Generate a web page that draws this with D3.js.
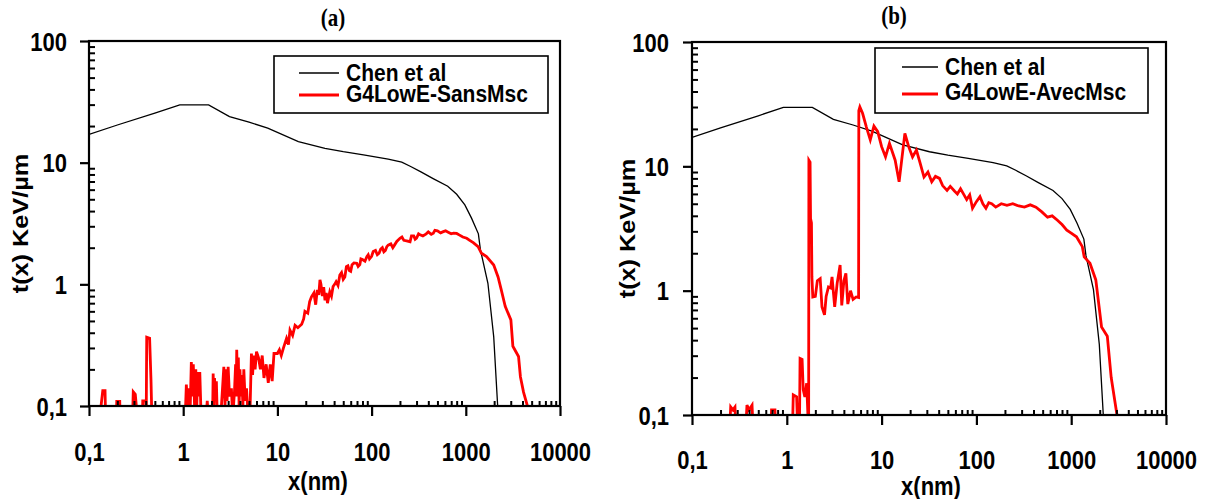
<!DOCTYPE html>
<html><head><meta charset="utf-8">
<script src="https://cdn.jsdelivr.net/npm/d3@7"></script>
<style>body{margin:0;background:#fff}</style>
</head><body>
<svg id="chart" width="1205" height="499"></svg>
<script>
// ---------- data ----------
const chenX = [0.1, 0.2, 0.5, 0.92, 1.86, 3.1, 5, 7.9, 16.7, 32, 50, 82, 150, 209, 260, 334, 450, 643, 800, 977, 1150, 1360, 1430, 1717, 1979, 2172, 2200];
const chenY = [17.1, 20.4, 25.5, 29.8, 29.8, 23.9, 21.5, 19.2, 14.9, 13.1, 12.3, 11.6, 10.7, 10.1, 9.3, 8.4, 7.4, 6.4, 5.5, 4.5, 3.5, 2.6, 1.92, 1.02, 0.37, 0.105, 0.09];

const sansMscX = [0.13,0.14,0.148,0.15, 0.195,0.197,0.212,0.214, 0.29,0.295,0.31,0.326, 0.37,0.372,0.40,0.405,0.41,0.44,0.455,0.465,
  1.05,1.08,1.12,1.15,1.18,1.22,1.25,1.28,1.32,1.36,1.39,1.42,1.46,1.5,1.55, 1.75,1.8,1.85,
  2.05,2.08,2.12,2.15,2.2,2.25,2.3, 2.5,2.6,2.7,2.78,2.85,2.92,3.0,3.1,3.25,3.35,
  3.5,3.6,3.65,3.7,3.78,3.85,3.92,4.0,4.1,4.2,4.3,4.4,4.55,4.7,4.9,5.1,
  5.3,5.45,5.6,5.8,6.0,6.3,6.6,6.9,7.2,7.6,8.0,8.4,8.8,9.2,
  10,10.5,11,11.6,12.5,13.1,13.6,14.5,15.4,16.5,18.1,19,19.6,21,22,23,24.4,25.5,26.5,27.5,28.3,29,30,31,32,33,34,36,37.5,39,40.5,42,44,46,48,50,52,54,56,58,60,62,65,69.5,72,75,77,80,85,89,92,95,100,104,110,115,120,125,130,135,140,145,150,160,168,175,185,200,210,220,235,256,265,280,290,300,315,327,350,380,400,430,452,470,500,540,577,610,650,700,741,800,850,930,1023,1100,1200,1350,1466,1660,1979,2200,2380,2620,3010,3160,3630,3800,4100,4510,4600];
const sansMscY = [0.08,0.134,0.134,0.08, 0.08,0.109,0.109,0.08, 0.08,0.131,0.125,0.08, 0.08,0.11,0.11,0.08,0.367,0.36,0.164,0.08,
  0.08,0.15,0.09,0.14,0.08,0.23,0.12,0.22,0.1,0.2,0.09,0.19,0.12,0.19,0.08, 0.08,0.11,0.08,
  0.08,0.185,0.1,0.17,0.12,0.16,0.08, 0.08,0.13,0.21,0.1,0.2,0.11,0.21,0.12,0.14,0.08,
  0.13,0.22,0.12,0.29,0.15,0.25,0.1,0.2,0.12,0.18,0.1,0.2,0.11,0.14,0.08,0.08,
  0.27,0.18,0.26,0.2,0.28,0.25,0.2,0.26,0.17,0.22,0.155,0.22,0.16,0.27,
  0.27,0.29,0.26,0.3,0.36,0.32,0.42,0.38,0.46,0.44,0.47,0.52,0.6,0.58,0.72,0.79,0.85,0.68,0.9,0.82,1.09,1.0,0.8,0.95,0.74,0.85,0.7,0.87,0.8,0.96,1.0,1.05,0.98,1.19,1.25,1.1,1.15,1.4,1.42,1.3,1.28,1.45,1.5,1.49,1.4,1.45,1.62,1.6,1.55,1.69,1.75,1.62,1.7,1.86,1.9,1.75,1.8,1.95,2.0,1.85,1.9,2.04,2.1,2.15,2.0,2.1,2.25,2.39,2.45,2.3,2.28,2.24,2.5,2.5,2.35,2.4,2.6,2.55,2.5,2.6,2.7,2.58,2.63,2.78,2.75,2.65,2.71,2.75,2.68,2.6,2.63,2.62,2.55,2.45,2.39,2.3,2.2,2.04,1.8,1.69,1.44,1.15,0.9,0.66,0.51,0.31,0.255,0.174,0.13,0.1,0.08];

const avecMscX = [0.25,0.256,0.27,0.284,0.29, 0.37,0.38,0.40,0.43,0.44, 0.68,0.69,0.75,0.76,
  1.15,1.17,1.27,1.30,1.36,1.38,1.45,1.49,1.55,1.62,1.69,1.70,1.71,1.76,1.78,1.82,1.84,1.88,
  2.0,2.1,2.25,2.35,2.5,2.6,2.75,2.9,3.0,3.2,3.4,3.65,3.8,4.0,4.2,4.4,4.7,5.0,5.4,5.72,5.75,5.9,6.3,6.9,7.6,8.3,9.1,10,11,12.1,13.9,15.3,17.6,19.3,21.2,23.3,25.5,28,30.8,33.8,37,40.8,44,49,53,59,63,68,73,79,85,91,100,109,117,126,135,145,160,183,210,242,280,321,370,425,490,563,630,711,800,899,1000,1137,1310,1371,1578,1818,2090,2404,2642,3040,3100];
const avecMscY = [0.08,0.116,0.11,0.116,0.08, 0.08,0.12,0.11,0.12,0.08, 0.08,0.11,0.11,0.08,
  0.08,0.145,0.14,0.08,0.08,0.285,0.28,0.16,0.14,0.18,0.08,0.08,11.2,10.8,3.8,3.5,1.29,0.89,
  0.9,1.2,1.25,0.74,0.64,0.9,1.07,1.05,1.29,0.74,1.15,1.61,0.76,1.2,1.38,0.78,1.0,0.85,0.89,0.88,28,30,26.7,20.8,16.3,21.1,19,14.4,11.9,15.3,11.2,7.5,18.4,14.4,11.9,13.5,10.6,8.2,9.0,7.5,8.3,8.0,7.0,6.4,6.9,6.3,6.0,6.6,6.0,5.4,5.9,4.6,5.2,5.7,5.0,4.6,5.1,5.0,4.7,5.0,4.85,5.0,4.8,4.7,4.9,4.7,4.3,3.9,4.0,3.7,3.4,3.07,2.9,2.71,2.26,1.87,1.66,1.22,0.51,0.43,0.2,0.1,0.08];

const xTickValues = [0.1, 1, 10, 100, 1000, 10000];
const xTickLabels = ["0,1", "1", "10", "100", "1000", "10000"];
const yTickValues = [0.1, 1, 10, 100];
const yTickLabels = ["0,1", "1", "10", "100"];
const seriesNames = ["Chen et al", "G4LowE-SansMsc", "G4LowE-AvecMsc"];
const panelTitles = ["(a)", "(b)"];
const xAxisTitle = "x(nm)";
const yAxisTitle = "t(x) KeV/\u00b5m";

// ---------- layout ----------
const FONT = "'Liberation Sans', Arial, sans-serif";
const SERIF = "'Liberation Serif', 'Times New Roman', serif";
const SY = 1.15;
const svg = d3.select('#chart');

const panels = [
  {left:89, right:560, top:41, bottom:406, redX:sansMscX, redY:sansMscY, redName:seriesNames[1], title:panelTitles[0],
   titlePos:[333,26], yTitleX:20, xTitlePos:[318,490], yLabOff:22, xLabOff:46,
   legend:{x:274, y:56, w:274, h:57, lx1:299, lx2:339, tx:346, l1:73, l2:95, b1:81, b2:102}},
  {left:692, right:1166, top:42, bottom:415, redX:avecMscX, redY:avecMscY, redName:seriesNames[2], title:panelTitles[1],
   titlePos:[894,24], yTitleX:627, xTitlePos:[931,495], yLabOff:23, xLabOff:45,
   legend:{x:875, y:48, w:273, h:65, lx1:902, lx2:938, tx:945, l1:67, l2:94, b1:75, b2:100}}
];

function minorTicks(domain) {
  const out = [];
  const e0 = Math.round(Math.log10(domain[0])), e1 = Math.round(Math.log10(domain[1]));
  for (let e = e0; e < e1; e++) for (let k = 2; k <= 9; k++) out.push(k * Math.pow(10, e));
  return out;
}

panels.forEach(p => {
  const g = svg.append('g');
  const x = d3.scaleLog().domain([xTickValues[0], xTickValues[xTickValues.length-1]]).range([p.left, p.right]);
  const y = d3.scaleLog().domain([yTickValues[0], yTickValues[yTickValues.length-1]]).range([p.bottom, p.top]);

  const clipId = 'clip' + p.left;
  svg.append('clipPath').attr('id', clipId).append('rect')
    .attr('x', p.left).attr('y', p.top).attr('width', p.right - p.left).attr('height', p.bottom - p.top);

  // lines
  const line = d3.line().x(d => x(d[0])).y(d => y(d[1]));
  const chen = chenX.map((v, i) => [v, chenY[i]]);
  const red = p.redX.map((v, i) => [v, p.redY[i]]);
  const lg = g.append('g').attr('clip-path', `url(#${clipId})`);
  lg.append('path').datum(chen).attr('d', line).attr('fill', 'none').attr('stroke', '#000').attr('stroke-width', 1.3);
  lg.append('path').datum(red).attr('d', line).attr('fill', 'none').attr('stroke', '#ff0000').attr('stroke-width', 2.8).attr('stroke-linejoin', 'miter');

  // minor ticks (inside)
  g.append('g').attr('transform', `translate(0,${p.bottom})`)
    .call(d3.axisBottom(x).tickValues(minorTicks(x.domain())).tickSize(-5).tickFormat(''))
    .call(a => a.select('.domain').remove())
    .selectAll('line').attr('stroke-width', 2);
  g.append('g').attr('transform', `translate(${p.left},0)`)
    .call(d3.axisLeft(y).tickValues(minorTicks(y.domain())).tickSize(-6).tickFormat(''))
    .call(a => a.select('.domain').remove())
    .selectAll('line').attr('stroke-width', 2);

  // major ticks (outside)
  const xa = g.append('g').attr('transform', `translate(0,${p.bottom})`)
    .call(d3.axisBottom(x).tickValues(xTickValues).tickSize(10).tickFormat((d, i) => xTickLabels[i]));
  xa.select('.domain').remove();
  xa.selectAll('line').attr('stroke-width', 2.2);
  xa.selectAll('text').attr('y', 0).attr('dy', '0.36em')
    .attr('transform', `translate(0,${p.xLabOff}) scale(1,${SY})`)
    .style('font-family', FONT).style('font-size', '22px').style('font-weight', 'bold').attr('fill', '#000');

  const ya = g.append('g').attr('transform', `translate(${p.left},0)`)
    .call(d3.axisLeft(y).tickValues(yTickValues).tickSize(9).tickFormat((d, i) => yTickLabels[i]));
  ya.select('.domain').remove();
  ya.selectAll('line').attr('stroke-width', 2.2);
  ya.selectAll('text').attr('x', 0).attr('dy', '0.36em').attr('text-anchor', 'end')
    .attr('transform', `translate(${-p.yLabOff},0) scale(1,${SY})`)
    .style('font-family', FONT).style('font-size', '22px').style('font-weight', 'bold').attr('fill', '#000');

  // frame
  g.append('rect').attr('x', p.left).attr('y', p.top).attr('width', p.right - p.left).attr('height', p.bottom - p.top)
    .attr('fill', 'none').attr('stroke', '#000').attr('stroke-width', 2.2);

  // titles
  g.append('text').text(p.title).attr('text-anchor', 'middle')
    .attr('transform', `translate(${p.titlePos[0]},${p.titlePos[1]}) scale(1,${SY})`)
    .style('font-family', SERIF).style('font-size', '21px').style('font-weight', 'bold');
  g.append('text').text(xAxisTitle).attr('text-anchor', 'middle')
    .attr('transform', `translate(${p.xTitlePos[0]},${p.xTitlePos[1]}) scale(1,${SY})`)
    .style('font-family', FONT).style('font-size', '22px').style('font-weight', 'bold');
  g.append('text').text(yAxisTitle).attr('text-anchor', 'middle').attr('dy', '0.36em')
    .attr('transform', `translate(${p.yTitleX},${(p.top + p.bottom) / 2}) rotate(-90) scale(${SY},1)`)
    .style('font-family', FONT).style('font-size', '22px').style('font-weight', 'bold');

  // legend
  const L = p.legend;
  g.append('rect').attr('x', L.x).attr('y', L.y).attr('width', L.w).attr('height', L.h)
    .attr('fill', '#fff').attr('stroke', '#000').attr('stroke-width', 1.6);
  g.append('line').attr('x1', L.lx1).attr('x2', L.lx2).attr('y1', L.l1).attr('y2', L.l1).attr('stroke', '#000').attr('stroke-width', 1.4);
  g.append('line').attr('x1', L.lx1).attr('x2', L.lx2).attr('y1', L.l2).attr('y2', L.l2).attr('stroke', '#ff0000').attr('stroke-width', 3);
  g.append('text').text(seriesNames[0]).attr('transform', `translate(${L.tx},${L.b1}) scale(1,${SY})`)
    .style('font-family', FONT).style('font-size', '21px').style('font-weight', 'bold');
  g.append('text').text(p.redName).attr('transform', `translate(${L.tx},${L.b2}) scale(1,${SY})`)
    .style('font-family', FONT).style('font-size', '21px').style('font-weight', 'bold');
});
</script>
</body></html>
